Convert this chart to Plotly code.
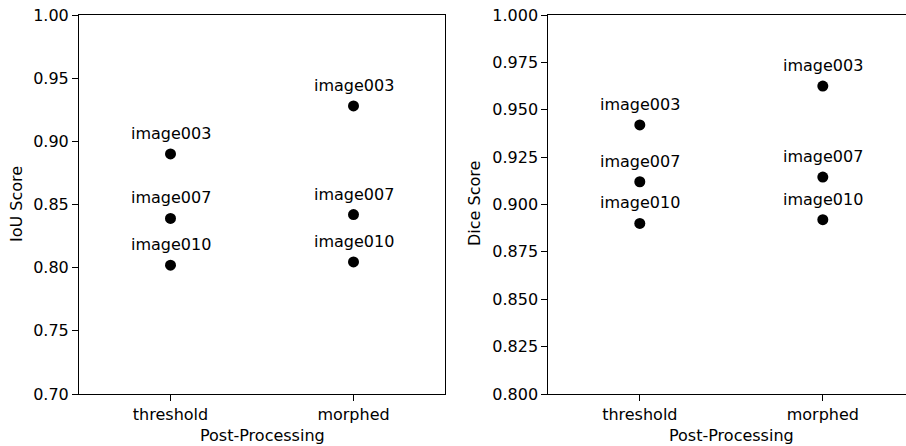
import plotly.graph_objects as go

categories = ["threshold", "morphed"]
images = ["image003", "image007", "image010"]
iou_threshold = [0.890, 0.839, 0.802]
iou_morphed = [0.928, 0.842, 0.8045]
dice_threshold = [0.942, 0.912, 0.890]
dice_morphed = [0.9625, 0.9145, 0.892]

iou_ticks = [0.70, 0.75, 0.80, 0.85, 0.90, 0.95, 1.00]
dice_ticks = [0.800, 0.825, 0.850, 0.875, 0.900, 0.925, 0.950, 0.975, 1.000]

FONT = "DejaVu Sans"
FS = 16
W, H = 906, 446

fig = go.Figure()

def add_panel(xa, ya, thr, mor):
    xs, ys, labs = [], [], []
    for cat, vals in zip(categories, [thr, mor]):
        for im, v in zip(images, vals):
            xs.append(cat); ys.append(v); labs.append(im)
    fig.add_trace(go.Scatter(x=xs, y=ys, mode="markers",
                             marker=dict(color="black", size=11, line=dict(width=0)),
                             xaxis=xa, yaxis=ya, showlegend=False, hoverinfo="skip"))
    xr = "x" if xa == "x" else "x2"
    yr = "y" if ya == "y" else "y2"
    for x, y, t in zip(xs, ys, labs):
        fig.add_annotation(x=x, y=y, xref=xr, yref=yr, text=t, showarrow=False,
                           yanchor="bottom", xanchor="center", yshift=9,
                           font=dict(family=FONT, size=FS, color="black"))

add_panel("x", "y", iou_threshold, iou_morphed)
add_panel("x2", "y2", dice_threshold, dice_morphed)

ytop = 1 - 15 / H
ybot = 1 - 394 / H

axis_common = dict(showgrid=False, zeroline=False, linecolor="black", linewidth=1,
                   ticks="outside", ticklen=6, tickwidth=1, tickcolor="black",
                   automargin=False,
                   tickfont=dict(family=FONT, size=FS, color="black"))

fig.update_layout(
    width=W, height=H, margin=dict(l=0, r=0, t=0, b=0, autoexpand=False),
    paper_bgcolor="white", plot_bgcolor="white",
    font=dict(family=FONT, size=FS, color="black"),
    xaxis=dict(domain=[79 / W, 445 / W], type="category", categoryorder="array",
               categoryarray=categories, range=[-0.5, 1.5], mirror=True,
               anchor="y", **axis_common),
    yaxis=dict(domain=[ybot, ytop], range=[0.70, 1.00], tickvals=iou_ticks,
               tickformat=".2f", mirror=True, anchor="x", **axis_common),
    xaxis2=dict(domain=[548.3 / W, 1.0], type="category", categoryorder="array",
                categoryarray=categories, range=[-0.5, 1.4546], mirror=True,
                anchor="y2", **axis_common),
    yaxis2=dict(domain=[ybot, ytop], range=[0.800, 1.000], tickvals=dice_ticks,
                tickformat=".3f", mirror=False, anchor="x2", **axis_common),
)

# axis titles
fig.add_annotation(text="Post-Processing", xref="paper", yref="paper",
                   x=262 / W, y=1 - 435 / H, showarrow=False,
                   xanchor="center", yanchor="middle",
                   font=dict(family=FONT, size=FS, color="black"))
fig.add_annotation(text="Post-Processing", xref="paper", yref="paper",
                   x=731 / W, y=1 - 435 / H, showarrow=False,
                   xanchor="center", yanchor="middle",
                   font=dict(family=FONT, size=FS, color="black"))
fig.add_annotation(text="IoU Score", xref="paper", yref="paper",
                   x=16 / W, y=1 - 204 / H, showarrow=False, textangle=-90,
                   xanchor="center", yanchor="middle",
                   font=dict(family=FONT, size=FS, color="black"))
fig.add_annotation(text="Dice Score", xref="paper", yref="paper",
                   x=474 / W, y=1 - 204 / H, showarrow=False, textangle=-90,
                   xanchor="center", yanchor="middle",
                   font=dict(family=FONT, size=FS, color="black"))

fig.write_html("out.html")
